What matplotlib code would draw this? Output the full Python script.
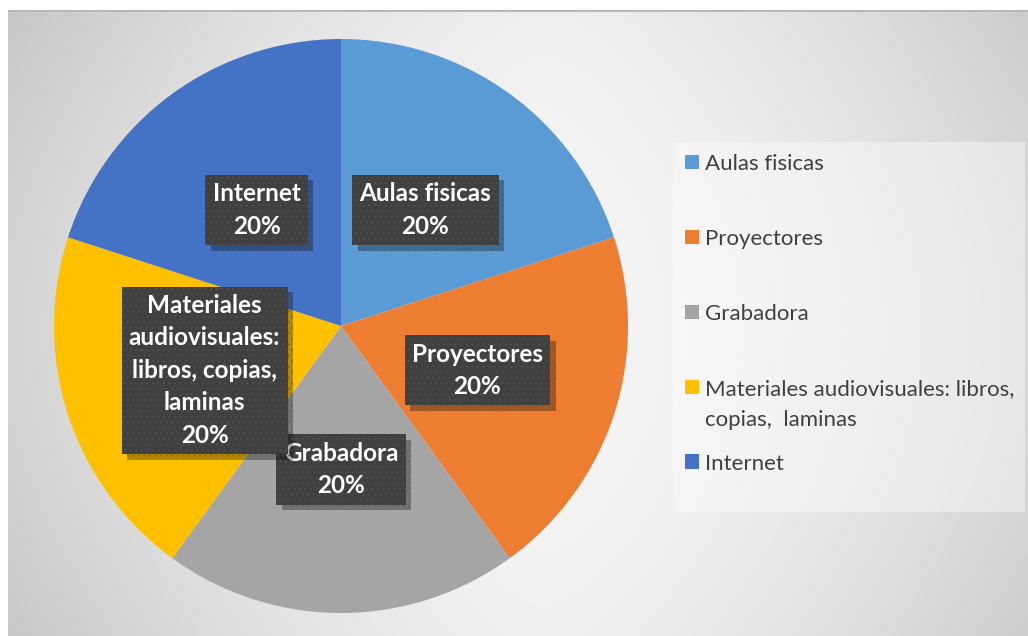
import numpy as np
import matplotlib
matplotlib.use('Agg')
import matplotlib.pyplot as plt
import matplotlib.patheffects as pe
from matplotlib.patches import Rectangle
from matplotlib.text import Annotation

categories = ['Aulas fisicas', 'Proyectores', 'Grabadora',
              'Materiales audiovisuales: libros,', 'Internet']
box_labels = ['Aulas fisicas', 'Proyectores', 'Grabadora',
              'Materiales\naudiovisuales:\nlibros, copias,\nlaminas', 'Internet']
extra_line = 'copias,  laminas'
values = [20, 20, 20, 20, 20]
colors = ['#5B9BD5', '#ED7D31', '#A5A5A5', '#FFC000', '#4472C4']

plt.rcParams['font.family'] = ['Lato', 'DejaVu Sans']
plt.rcParams['hatch.linewidth'] = 0.3

W, H = 1028, 636
fig = plt.figure(figsize=(W / 100, H / 100), dpi=100)
fig.patch.set_facecolor('white')

# gradient background of the chart area
bg = fig.add_axes([8 / W, 0, (W - 8) / W, (H - 10) / H])
xx, yy = np.meshgrid(np.linspace(8, W, 400), np.linspace(10, H, 250))
fx = (np.abs(xx - 545) / 520) ** 1.5
fy = (np.abs(yy - 330) / 320) ** 2
shade = 0.965 - 0.13 * fx - 0.03 * fy - 0.02 * fx * fy
bg.imshow(shade, cmap='gray', vmin=0, vmax=1, aspect='auto',
          extent=[0, 1, 0, 1], origin='upper', interpolation='bicubic')
bg.axhline(1, color='#b4b4b4', lw=2)
bg.set_xlim(0, 1)
bg.set_ylim(0, 1)
bg.axis('off')

# pie
ax = fig.add_axes([54 / W, 23 / H, 574 / W, 574 / H])
wedges, _ = ax.pie(values, colors=colors, startangle=90, counterclock=False,
                   wedgeprops=dict(linewidth=0))
ax.set_xlim(-1, 1)
ax.set_ylim(-1, 1)
ax.axis('off')

total = sum(values)
for w, lab, v in zip(wedges, box_labels, values):
    ang = np.deg2rad((w.theta1 + w.theta2) / 2)
    x, y = 0.5 * np.cos(ang), 0.5 * np.sin(ang)
    t = ax.text(x, y, f'{lab}\n{v / total:.0%}', ha='center', va='center',
                fontsize=17.5, fontweight='bold', color='white', linespacing=1.5,
                bbox=dict(boxstyle='square,pad=0.3', facecolor='#404040',
                          edgecolor='#585858', linewidth=0, hatch='...'))
    t.get_bbox_patch().set_path_effects(
        [pe.SimplePatchShadow(offset=(4, -4), shadow_rgbFace='black', alpha=0.3),
         pe.Normal()])

# legend
fig.patches.append(Rectangle((673 / W, 1 - 512 / H), 352 / W, 370 / H,
                             transform=fig.transFigure, facecolor='white',
                             alpha=0.4, edgecolor='none'))
leg = fig.legend(wedges, categories, loc='upper left',
                 bbox_to_anchor=(685 / W, 1 - 154 / H), frameon=False,
                 fontsize=16, handlelength=0.63, handleheight=0.63,
                 handletextpad=0.27, labelspacing=2.47, borderpad=0,
                 borderaxespad=0, labelcolor='#404040')
cont = Annotation(extra_line, xy=(0, 0), xycoords=leg.get_texts()[3],
                  xytext=(0, -11), textcoords='offset pixels', va='top',
                  ha='left', fontsize=16, color='#404040')
cont.set_zorder(leg.get_zorder() + 1)
fig.add_artist(cont)

fig.savefig('out.png', dpi=100)
